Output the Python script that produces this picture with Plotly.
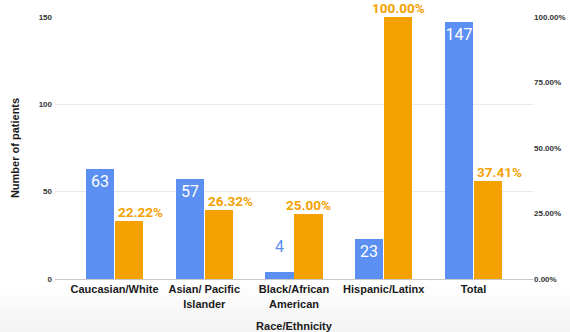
import plotly.graph_objects as go

categories = ["Caucasian/White", "Asian/ Pacific<br>Islander", "Black/African<br>American", "Hispanic/Latinx", "Total"]
patients = [63, 57, 4, 23, 147]
percent = [0.2222, 0.2632, 0.25, 1.0, 0.3741]
left_ticks = [0, 50, 100, 150]
right_ticks = [0, 0.25, 0.5, 0.75, 1.0]

BLUE = "#5b8ff2"
ORANGE = "#f3a103"
x = list(range(len(categories)))
BW = 0.315
LEFT_MAX = 150

fig = go.Figure()
fig.add_trace(go.Bar(
    x=x, y=patients, yaxis="y", marker_color=BLUE, marker_line_width=0,
    width=BW, offset=-0.318,
    text=[str(v) if v > 10 else "" for v in patients],
    textposition="inside",
    insidetextanchor="end", textangle=0,
    insidetextfont=dict(color="white", size=16, family="Roboto"),
    constraintext="none", cliponaxis=False, showlegend=False,
))
fig.add_trace(go.Bar(
    x=x, y=percent, yaxis="y2", marker_color=ORANGE, marker_line_width=0,
    width=BW, offset=0.003, showlegend=False,
))

annotations = []
for xi, v in zip(x, patients):
    if v <= 10:
        annotations.append(dict(
            x=xi - 0.318 + BW / 2, y=v, xref="x", yref="y", text=str(v),
            showarrow=False, xanchor="center", yanchor="bottom", yshift=14,
            font=dict(color=BLUE, size=16, family="Roboto"),
        ))
for xi, v, p in zip(x, percent, patients):
    blocked = p / LEFT_MAX > v  # neighbouring blue bar is taller -> push label right
    annotations.append(dict(
        x=(xi + 0.003) if blocked else (xi + 0.003 + BW / 2), y=v, xref="x", yref="y2",
        text=f"{v*100:.2f}%",
        showarrow=False, xanchor="left" if blocked else "center", yanchor="bottom",
        xshift=1 if blocked else 0, yshift=-1,
        font=dict(color=ORANGE, size=13.5, family="Roboto", weight="bold"),
    ))

# subtle grey gradient at the bottom of the page
bands = ["#fdfdfd", "#fafafa", "#f7f7f7", "#f5f5f5", "#f3f3f3"]
shapes = []
for i, c in enumerate(bands):
    y0 = -0.03 - i * 0.04
    shapes.append(dict(type="rect", xref="paper", yref="paper", x0=-0.2, x1=1.2,
                       y0=y0 - 0.04, y1=y0, fillcolor=c, line_width=0, layer="below"))
shapes[-1]["y0"] = -0.5

fig.update_layout(
    width=570, height=332,
    margin=dict(l=55, r=37, t=17, b=53, autoexpand=False),
    paper_bgcolor="white", plot_bgcolor="rgba(0,0,0,0)",
    font=dict(family="Liberation Sans", color="#222"),
    shapes=shapes, annotations=annotations,
    xaxis=dict(
        range=[-0.663, 4.663], tickmode="array", tickvals=x, ticktext=categories,
        tickfont=dict(size=11, color="#1a1a1a", weight="bold"),
        showgrid=False, zeroline=False, showline=True, linecolor="#c8c8c8", linewidth=1,
        ticks="", fixedrange=True, automargin=False,
        title=dict(text="Race/Ethnicity", font=dict(size=11, weight="bold", color="#1a1a1a"), standoff=13),
    ),
    yaxis=dict(
        range=[0, LEFT_MAX], tickvals=left_ticks, tickfont=dict(size=8, color="#333", weight="bold"),
        showgrid=True, gridcolor="#e9e9e9", zeroline=False, ticks="", automargin=False,
        ticklabelstandoff=2,
        title=dict(text="Number of patients", font=dict(size=11, weight="bold", color="#1a1a1a"), standoff=16),
    ),
    yaxis2=dict(
        range=[0, 1], overlaying="y", side="right", tickvals=right_ticks, tickformat=".2%",
        tickfont=dict(size=8, color="#333", weight="bold"),
        showgrid=False, zeroline=False, ticks="", automargin=False,
    ),
    bargap=0.0,
)

fig.write_html("out.html")
